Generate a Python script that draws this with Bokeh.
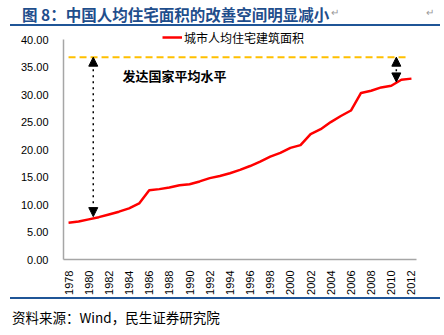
import math
from bokeh.plotting import figure
from bokeh.models import (Range1d, FixedTicker, NumeralTickFormatter, Legend, LegendItem,
                          Arrow, NormalHead, Label, Div)
from bokeh.layouts import column
from bokeh.embed import file_html
from bokeh.resources import INLINE

# ---- data ----
years = list(range(1978, 2013))
urban_area = [6.7, 6.9, 7.3, 7.7, 8.2, 8.7, 9.3, 10.2, 12.6, 12.8, 13.1, 13.5, 13.7,
              14.2, 14.8, 15.2, 15.7, 16.3, 17.0, 17.8, 18.7, 19.4, 20.3, 20.8,
              22.8, 23.7, 25.0, 26.1, 27.1, 30.3, 30.7, 31.3, 31.6, 32.7, 32.9]
developed_level = 36.8
series_name = "城市人均住宅建筑面积"
annotation_text = "发达国家平均水平"
title_text = "图 8：中国人均住宅面积的改善空间明显减小"
source_text = "资料来源：Wind，民生证券研究院"
x_tick_years = list(range(1978, 2013, 2))
y_ticks = [0, 5, 10, 15, 20, 25, 30, 35, 40]

BLUE = "#1F5597"

title_div = Div(
    width=444, height=27, margin=0,
    text=(
        '<div style="position:relative;width:444px;height:27px;">'
        '<span style="position:absolute;left:22px;top:3px;font-weight:bold;font-size:15.5px;'
        "font-family:'Noto Sans CJK SC';color:#1F4E8C;white-space:nowrap;\">"
        + title_text +
        '</span>'
        '<span style="position:absolute;left:331px;top:6px;font-size:10px;color:#999;">↵</span>'
        '<span style="position:absolute;left:426px;top:6px;font-size:10px;color:#999;">↵</span>'
        '<div style="position:absolute;left:10px;top:24px;width:430px;height:2px;background:' + BLUE + ';"></div>'
        '</div>'
    ),
)

p = figure(width=444, height=270, output_backend="svg", toolbar_location=None,
           x_range=Range1d(1977.5, 2012.5), y_range=Range1d(0, 42.2),
           min_border_left=63, min_border_right=28, min_border_top=0, min_border_bottom=36)
p.outline_line_color = None
p.xgrid.visible = False
p.ygrid.visible = False

ax_color = "#A6A6A6"
for ax in (p.xaxis[0], p.yaxis[0]):
    ax.axis_line_color = ax_color
    ax.axis_line_width = 1.5
    ax.major_tick_line_color = None
    ax.minor_tick_line_color = None
    ax.major_label_text_font = "Liberation Sans"
    ax.major_label_text_font_size = "11px"
    ax.major_label_text_color = "#000000"

p.yaxis.ticker = FixedTicker(ticks=y_ticks)
p.yaxis.bounds = (0, 40)
p.yaxis.formatter = NumeralTickFormatter(format="0.00")
p.yaxis.major_label_standoff = 9
p.xaxis.ticker = FixedTicker(ticks=x_tick_years)
p.xaxis.major_label_orientation = math.pi / 2
p.xaxis.major_label_standoff = 5

# developed-country reference line
p.line([1978, 2011.6], [developed_level, developed_level], line_color="#FFC000",
       line_width=2, line_dash="7 4")

r = p.line(years, urban_area, line_color="#FF0000", line_width=2.5, line_join="round")

legend = Legend(items=[LegendItem(label=series_name, renderers=[r])],
                location=(99, 212), padding=0, margin=0, spacing=0,
                glyph_width=20, label_standoff=2, border_line_color=None,
                background_fill_alpha=0, label_text_font="Noto Sans CJK SC",
                label_text_font_size="12px", label_text_color="#000000")
p.add_layout(legend, "center")

# gap arrows
for xa, y_bottom in ((1980.45, 7.8), (2010.5, 32.3)):
    p.add_layout(Arrow(x_start=xa, y_start=developed_level, x_end=xa, y_end=y_bottom,
                       line_color="black", line_width=1.5, line_dash="dotted",
                       start=NormalHead(size=9, fill_color="black", line_color="black"),
                       end=NormalHead(size=9, fill_color="black", line_color="black")))

p.add_layout(Label(x=1983.35, y=33.5, text=annotation_text, text_font="Noto Sans CJK SC",
                   text_font_style="bold", text_font_size="13px", text_baseline="middle",
                   text_color="#000000"))

footer_div = Div(
    width=444, height=38, margin=0,
    text=(
        '<div style="position:relative;width:444px;height:38px;">'
        '<div style="position:absolute;left:10px;top:0px;width:430px;height:2px;background:' + BLUE + ';"></div>'
        '<span style="position:absolute;left:12px;top:11px;font-size:13.5px;'
        "font-family:'Noto Sans CJK SC';color:#000;white-space:nowrap;\">"
        + source_text +
        '</span>'
        '</div>'
    ),
)

layout = column(title_div, p, footer_div, spacing=0)
open("out.html", "w").write(file_html(layout, INLINE))
